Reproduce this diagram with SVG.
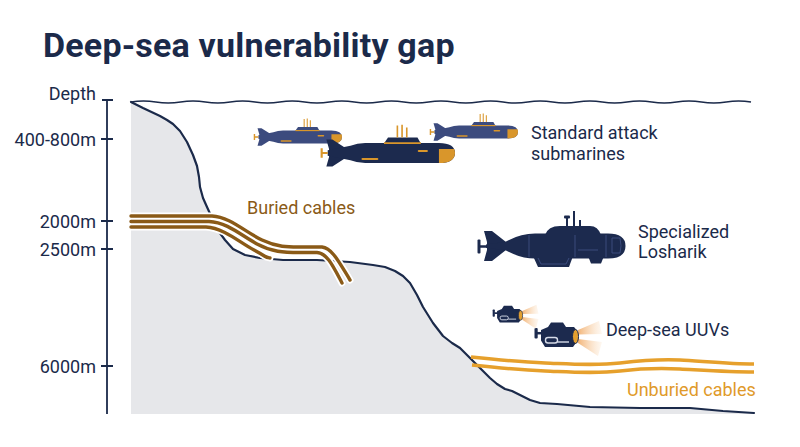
<svg xmlns="http://www.w3.org/2000/svg" width="800" height="447" viewBox="0 0 800 447">
<style>
  .t{font-family:Roboto,"Liberation Sans",sans-serif;}
  .title{font-size:34px;font-weight:700;fill:#1b2a4a;letter-spacing:0.2px;}
  .ax{font-size:18px;fill:#1b2a4a;text-anchor:end;}
  .lbl{font-size:18px;fill:#1b2a4a;}
  .navy{stroke:#1b2a4a;fill:none;}
  .subL{fill:#3c4b7e;}
  .subD{fill:#1c2a4e;}
  .panel{stroke:#3e4f82;stroke-width:0.9;fill:none;}
</style>
<defs>
  <g id="sub">
    <path d="M4,-10 L8.5,-10 L18,-4 L18,4 L8.5,10 L4,10 L6,3 L6,-3 Z"/>
    <path d="M5,-2 L22,-5.5 Q27,-7.5 33,-7.5 L88,-7.5 Q100,-7.5 100,0 Q100,7.5 88,7.5 L33,7.5 Q27,7.5 22,5.5 L5,2 Z"/>
    <path d="M47,-7 L50,-11.5 L72,-11.5 L74.5,-7 Z"/>
    <path d="M0.5,-3.5 L0.5,3.5 M0,0 L5,0" stroke="#d9962b" stroke-width="1.6" fill="none"/>
    <path d="M47,-7.3 L74.5,-7.3" stroke="#d9962b" stroke-width="1.3"/>
    <path d="M57,-11.5 L57,-20.5 M60.5,-11.5 L60.5,-21 M64,-11.5 L64,-19" stroke="#d9962b" stroke-width="1.2"/>
    <path d="M88,-3 L99.4,-3 Q100,-1.5 100,0 Q100,7.5 88,7.5 Z" fill="#d9962b"/>
    <path d="M31,4.5 L42,4.5 M73,-1.5 L79,-1.5" stroke="#d9962b" stroke-width="1.6" stroke-linecap="round"/>
  </g>
  <linearGradient id="beamU" x1="0" y1="0" x2="1" y2="0">
    <stop offset="0" stop-color="#f2b070" stop-opacity="0.95"/>
    <stop offset="1" stop-color="#fbe3c8" stop-opacity="0.25"/>
  </linearGradient>
  <g id="uuv">
    <path d="M578,330 L599,321 L602,334 L578,334.5 Z" fill="url(#beamU)"/>
    <path d="M578,339 L602,342 L598,356 L578,343 Z" fill="url(#beamU)"/>
    <rect x="534.5" y="328" width="3.2" height="10.5" rx="1" fill="#1c2a4e"/>
    <path d="M537,333.2 L543,333.2" stroke="#1c2a4e" stroke-width="2.5"/>
    <path d="M541,330 L548,327 L551,322.5 L563,322.5 L566,327 L574,327 L577,330.5 L577,341.5 L573,347 L545,347 L541,340.5 Z" fill="#1c2a4e"/>
    <rect x="545.5" y="337.5" width="12" height="5.5" rx="2.5" fill="none" stroke="#d6dbe8" stroke-width="1.4"/>
    <path d="M557.5,342 L569,342" stroke="#d6dbe8" stroke-width="1.4"/>
    <ellipse cx="575.5" cy="336.5" rx="3" ry="7" fill="#e4a030" stroke="#1c2a4e" stroke-width="1"/>
  </g>
</defs>

<rect width="800" height="447" fill="#ffffff"/>

<g id="title">
  <text class="t title" x="43" y="57">Deep-sea vulnerability gap</text>
</g>

<g id="seabed">
  <path d="M131,102 L143,108 L160,116 L167,120 L173,124 L180,131 L187,142 L193,155 L197,166 L199,177 L200,187 L203,198 L207,207 L212,218 L217,229 L225,240 L233,249 L245,255 L260,258 L283,260 L317,260 L350,262 L373,265 L385,267 L395,271 L403,276 L410,283 L417,295 L423,307 L433,323 L443,336 L452,343 L460,348 L468,356 L475,363 L482,370 L490,378 L497,384 L505,389 L512,391 L520,395 L530,400 L540,403 L557,404 L590,407 L640,408 L690,408 L723,411 L754,413 L754,414 L131,414 Z" fill="#e6e7ea"/>
  <path d="M131,102 L143,108 L160,116 L167,120 L173,124 L180,131 L187,142 L193,155 L197,166 L199,177 L200,187 L203,198 L207,207 L212,218 L217,229 L225,240 L233,249 L245,255 L260,258 L283,260 L317,260 L350,262 L373,265 L385,267 L395,271 L403,276 L410,283 L417,295 L423,307 L433,323 L443,336 L452,343 L460,348 L468,356 L475,363 L482,370 L490,378 L497,384 L505,389 L512,391 L520,395 L530,400 L540,403 L557,404 L590,407 L640,408 L690,408 L723,411 L754,413" class="navy" stroke-width="2.2" stroke-linejoin="round" stroke-linecap="round"/>
</g>

<g id="surface">
  <path d="M131,102 q12.4,-2.2 24.8,0 t24.8,0 t24.8,0 t24.8,0 t24.8,0 t24.8,0 t24.8,0 t24.8,0 t24.8,0 t24.8,0 t24.8,0 t24.8,0 t24.8,0 t24.8,0 t24.8,0 t24.8,0 t24.8,0 t24.8,0 t24.8,0 t24.8,0 t24.8,0 t24.8,0 t24.8,0 t24.8,0 t24.8,0" class="navy" stroke-width="1.5"/>
</g>

<g id="axis">
  <path d="M107,100 L107,414 M102,100 L113,100 M101,139 L113,139 M101,221 L113,221 M101,249 L113,249 M101,366 L113,366" class="navy" stroke-width="1.8"/>
  <text class="t ax" x="96" y="100">Depth</text>
  <text class="t ax" x="96" y="146">400-800m</text>
  <text class="t ax" x="96" y="227.5">2000m</text>
  <text class="t ax" x="96" y="255.5">2500m</text>
  <text class="t ax" x="96" y="372.5">6000m</text>
</g>

<g id="buried-cables" fill="none" stroke-linecap="round">
  <g stroke="#ffffff" stroke-width="7">
    <path d="M131,216 L212,216 C230,217 245,232 262,240 S290,247 305,247 L322,247 C332,248 339,262 350,280"/>
    <path d="M131,221.5 L209,221.5 C227,222 242,236 257,244 S283,252.5 300,252.5 L317,252.5 C327,253 333,266 342,283"/>
    <path d="M131,227 L206,227 C224,228 239,242 254,250 S264,257 270,258"/>
  </g>
  <g stroke="#8a5a17" stroke-width="3.4">
    <path d="M131,216 L212,216 C230,217 245,232 262,240 S290,247 305,247 L322,247 C332,248 339,262 350,280"/>
    <path d="M131,221.5 L209,221.5 C227,222 242,236 257,244 S283,252.5 300,252.5 L317,252.5 C327,253 333,266 342,283"/>
    <path d="M131,227 L206,227 C224,228 239,242 254,250 S264,257 270,258"/>
  </g>
  <text class="t lbl" x="247" y="214" style="fill:#8a5a17">Buried cables</text>
</g>

<g id="unburied-cables" fill="none" stroke="#e6a02c" stroke-width="3.6" stroke-linecap="butt">
  <path d="M471,357 C500,360 520,362 545,363 S595,366 620,363 S660,359 680,360 S730,364 754,364"/>
  <path d="M472,365 C500,368 520,370 545,371 S595,374 620,371 S660,368 680,369 S730,372 754,372"/>
  <text class="t lbl" x="627" y="396" stroke="none" style="fill:#e09a2a">Unburied cables</text>
</g>

<g id="sub-1" class="subL">
  <use href="#sub" transform="translate(254,137) scale(0.88)"/>
</g>
<g id="sub-2" class="subL">
  <use href="#sub" transform="translate(430,132) scale(0.88)"/>
</g>
<g id="sub-3" class="subD">
  <use href="#sub" transform="translate(321,153) scale(1.34)"/>
</g>
<g id="label-attack">
  <text class="t lbl" x="531" y="138.5">Standard attack</text>
  <text class="t lbl" x="531" y="159.5">submarines</text>
</g>

<g id="losharik" class="subD">
  <path d="M484,231 L492,231 L506,242 L506,250 L492,261 L484,261 L487,250 L487,242 Z"/>
  <rect x="477.5" y="239.5" width="3" height="14" rx="1"/>
  <path d="M480,246.5 L488,246.5" stroke="#1c2a4e" stroke-width="2.5"/>
  <path d="M486,244.5 L505,242 Q520,233.5 535,233.5 L608,233.5 Q625.5,233.5 625.5,246 Q625.5,258.5 608,258.5 L535,258.5 Q520,258.5 505,250 L486,248 Z"/>
  <path d="M545,235 Q548,226 560,226 L590,226 Q598,226 601,235 Z"/>
  <path d="M567,227 L567,218 M574,227 L574,211 M580,227 L580,220" stroke="#1c2a4e" stroke-width="2"/>
  <rect x="564" y="215.5" width="6" height="3" rx="1"/>
  <path d="M533,256 L538,267 L569,267 L573,256 Z"/>
  <path d="M588,256 L591,263.5 L601,263.5 L604,256 Z"/>
  <path d="M529,235 L529,257 M575,235 L575,257 M606,235 L606,257 M578,250 L598,250 M538,258 L541,264 L566,264 L569,258 M612,238 L620,238 Q622,246 620,253 L612,253 Z" class="panel"/>
</g>
<g id="label-losharik">
  <text class="t lbl" x="638" y="237.5">Specialized</text>
  <text class="t lbl" x="638" y="257.5">Losharik</text>
</g>

<g id="uuv-2">
  <use href="#uuv"/>
</g>
<g id="uuv-1">
  <use href="#uuv" transform="translate(493,313) scale(0.68) translate(-535,-333)"/>
</g>
<g id="label-uuv">
  <text class="t lbl" x="606" y="335.5">Deep-sea UUVs</text>
</g>
</svg>
